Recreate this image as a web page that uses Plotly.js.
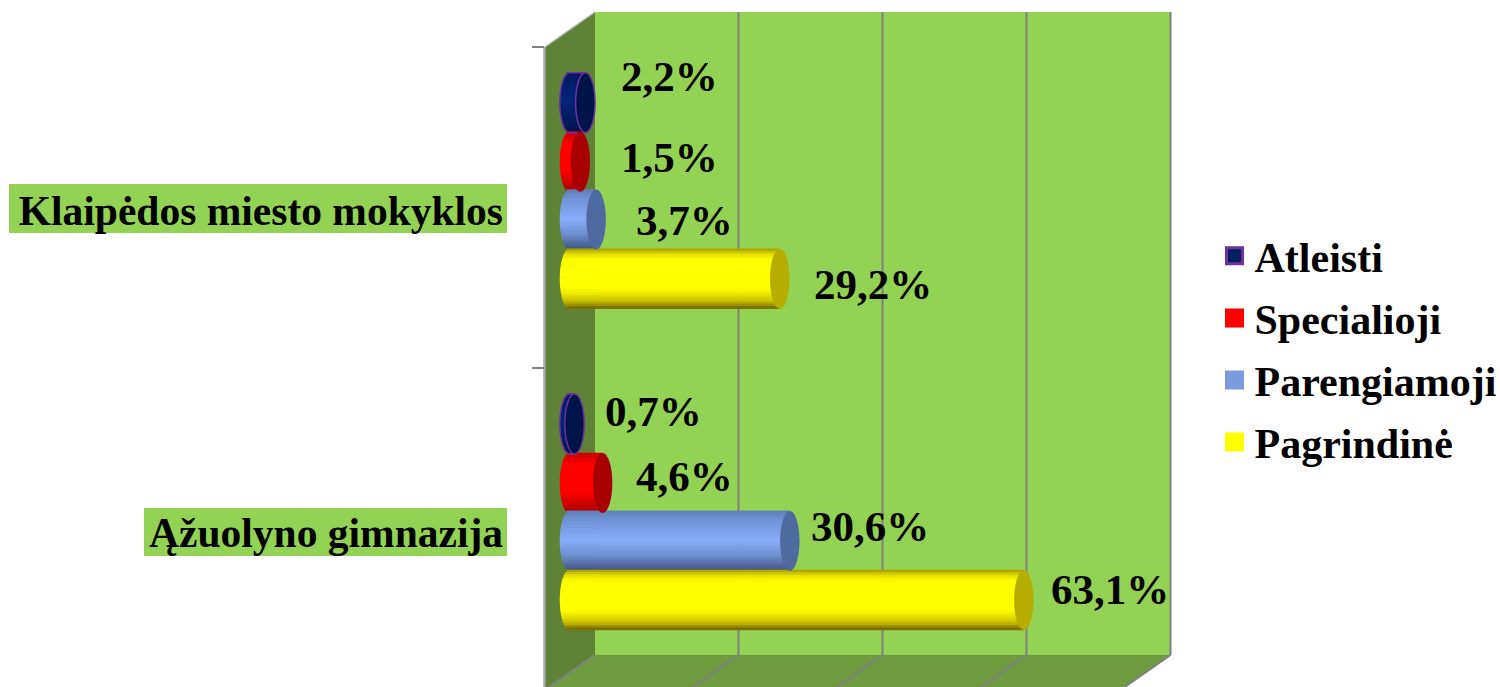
<!DOCTYPE html>
<html><head><meta charset="utf-8">
<script src="https://cdn.plot.ly/plotly-3.0.0.min.js"></script>
<style>html,body{margin:0;padding:0;background:#fff}#c{width:1500px;height:687px}</style>
</head><body><div id="c"></div>
<script>
// ---- data ----
const categories = ["Ąžuolyno gimnazija", "Klaipėdos miesto mokyklos"];
const seriesNames = ["Atleisti", "Specialioji", "Parengiamoji", "Pagrindinė"];
const atleisti = [0.7, 2.2];
const specialioji = [4.6, 1.5];
const parengiamoji = [30.6, 3.7];
const pagrindine = [63.1, 29.2];
const gridValues = [0, 20, 40, 60, 80];

// ---- styles ----
const SERIF = '"Liberation Serif","Times New Roman",serif';
const values = [atleisti, specialioji, parengiamoji, pagrindine];
const rowOffset = [0.327, 0.143, -0.037, -0.221];
const barH = 60 / 321.3, rx = 1.35, BANDS = 25;
const stops = [
  [[0,'#001a60'],[.45,'#002478'],[.8,'#001c60'],[1,'#00144a']],
  [[0,'#c80000'],[.2,'#ff0000'],[.65,'#ff0000'],[1,'#a80000']],
  [[0,'#5f7fb8'],[.2,'#7397dc'],[.5,'#86adf7'],[.75,'#6d8fcf'],[1,'#3f5380']],
  [[0,'#a39a00'],[.1,'#e6e000'],[.2,'#ffff00'],[.68,'#ffff00'],[.88,'#c8bf00'],[1,'#6e6200']]
];
const capColor = ['#00144a', '#a80000', '#4f6a9e', '#b5ae00'];
const legendFill = ['#002060', '#ff0000', '#7b9bdc', '#ffff00'];
const legendLine = ['#7030a0', '#ff0000', '#7b9bdc', '#ffff00'];
// label nudges [dx, dy] in pixels from the end of each bar
const nudge = [
  [[79, 12], [84, 26.5]],
  [[82, 7], [89.5, 4.5]],
  [[80, 14], [88, -1]],
  [[86, 10.5], [93, -6]]
];
const hex = c => [1,3,5].map(i => parseInt(c.substr(i,2),16));
function shade(st, f){
  for(let i=1;i<st.length;i++) if(f<=st[i][0]){
    const a=st[i-1], b=st[i], k=(f-a[0])/(b[0]-a[0]), A=hex(a[1]), B=hex(b[1]);
    return 'rgb('+A.map((v,j)=>Math.round(v+(B[j]-v)*k)).join(',')+')';
  }
  return st[st.length-1][1];
}
const traces = [];
for(let s=0;s<4;s++){
  for(let b=0;b<BANDS;b++){
    const f=(b+.5)/BANDS, t=2*f-1;           // f=0 top, f=1 bottom
    const inset=rx*Math.sqrt(1-t*t);
    traces.push({
      type:'bar', orientation:'h', showlegend:false, hoverinfo:'skip',
      y:categories.map((_,g)=>g+rowOffset[s]-t*barH/2),
      x:values[s].map(v=>v+inset), base:categories.map(()=>-inset),
      width:barH/BANDS*1.25,
      marker:{color:shade(stops[s],f),line:{width:0}}
    });
  }
}
// legend entries
seriesNames.forEach((n,s)=>traces.push({
  type:'scatter', mode:'markers', name:n, legendgroup:n, x:[null], y:[null], showlegend:true,
  marker:{symbol:'square',size:16,color:legendFill[s],line:{color:legendLine[s],width:3}}
}));

// ---- chart furniture, in page pixels ----
const L=545,R=1170,T=12,B=687;
const px=x=>(x-L)/(R-L), py=y=>(B-y)/(B-T);
const P=(pts,close)=>'M'+pts.map(p=>px(p[0])+','+py(p[1])).join('L')+(close?'Z':'');
const poly=(pts,fill,lw,lc)=>({type:'path',xref:'paper',yref:'paper',layer:'below',path:P(pts,true),fillcolor:fill,line:{width:lw||0,color:lc||fill}});
const seg=(a,b,c,w)=>({type:'path',xref:'paper',yref:'paper',layer:'below',path:P([a,b],false),line:{color:c||'#808080',width:w||2}});
const rect=(x0,y0,x1,y1,fill)=>({type:'rect',xref:'paper',yref:'paper',layer:'below',x0:px(x0),x1:px(x1),y0:py(y1),y1:py(y0),fillcolor:fill,line:{width:0}});
const wallX=v=>594.5+v*7.2;
const shapes=[
  rect(9,184,507,233,'#92d353'),
  rect(144,508,507,556,'#92d353'),
  rect(595,12,1170,655,'#92d353'),
  poly([[545,47],[595,12],[595,655],[545,690]],'#5f8236'),
  poly([[545,690],[595,655],[1171,655],[1121,690]],'#6f9a3f'),
  seg([544.5,47],[544.5,690],'#a6a6a6',2.5),
  seg([545,47],[595,12],'#b8b8b8',1.5)
];
gridValues.forEach(v=>{
  if(v>0) shapes.push(seg([wallX(v),12],[wallX(v),655]));
  shapes.push(seg([wallX(v),655],[wallX(v)-50,690]));
});
// bar end caps + the outline of Atleisti
for(let s=0;s<4;s++) categories.forEach((_,g)=>{
  const y=g+rowOffset[s], v=values[s][g], dark=s===0;
  if(dark){
    const pts=[[v,y+barH/2],[0,y+barH/2]];
    for(let i=1;i<16;i++){const a=Math.PI*i/16;pts.push([-rx*Math.sin(a),y+barH/2*Math.cos(a)]);}
    pts.push([0,y-barH/2],[v,y-barH/2]);
    shapes.push({type:'path',xref:'x',yref:'y',layer:'above',path:'M'+pts.map(p=>p.join(',')).join('L'),line:{color:'#7030a0',width:1.5}});
  }
  shapes.push({type:'circle',xref:'x',yref:'y',layer:'above',x0:v-rx,x1:v+rx,y0:y-barH/2,y1:y+barH/2,
    fillcolor:capColor[s],line:{width:dark?1.5:0,color:'#7030a0'}});
});
// value labels
const annotations=[];
for(let s=0;s<4;s++) categories.forEach((_,g)=>annotations.push({
  xref:'x',yref:'y',x:values[s][g],y:g+rowOffset[s],
  xshift:nudge[s][g][0],yshift:nudge[s][g][1],xanchor:'center',yanchor:'middle',showarrow:false,
  text:values[s][g].toFixed(1).replace('.',',')+'%',
  font:{family:SERIF,size:43,color:'#000',weight:700}
}));

const layout={
  width:1500,height:687,autosize:false,showlegend:true,
  paper_bgcolor:'#fff',plot_bgcolor:'rgba(0,0,0,0)',
  margin:{l:L,r:1500-R,t:T,b:687-B,pad:0,autoexpand:false},
  barmode:'overlay',
  xaxis:{range:[(L-569.5)/7.2,(R-569.5)/7.2],showgrid:false,zeroline:false,showline:false,ticks:'',showticklabels:false,fixedrange:true},
  yaxis:{range:[(529-687)/321.3,(529-12)/321.3],showgrid:false,zeroline:false,showline:false,
    tickmode:'array',tickvals:[0,1],ticktext:categories,ticks:'',ticklabelstandoff:41,ticklabelshift:3,
    tickfont:{family:SERIF,size:41.5,color:'#000',weight:700},
    minor:{tickmode:'array',tickvals:[0.5,1.5],ticks:'outside',ticklen:12,tickwidth:2,tickcolor:'#808080',showgrid:false},
    fixedrange:true},
  legend:{x:(1214.5-L)/(R-L),xanchor:'left',y:py(222),yanchor:'top',traceorder:'grouped',
    bgcolor:'rgba(0,0,0,0)',borderwidth:0,tracegroupgap:4.5,itemsizing:'trace',
    font:{family:SERIF,size:42,color:'#000',weight:700}},
  shapes,annotations
};
Plotly.newPlot('c',traces,layout,{displayModeBar:false,staticPlot:true});
</script></body></html>
